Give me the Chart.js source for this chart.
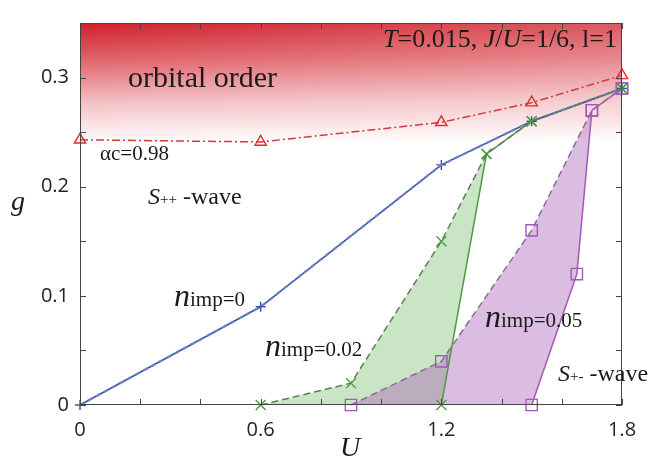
<!DOCTYPE html>
<html>
<head>
<meta charset="utf-8">
<script src="https://cdn.jsdelivr.net/npm/chart.js@4/dist/chart.umd.min.js"></script>
<style>
  html, body { margin: 0; padding: 0; background: #fff; }
  #wrap { width: 650px; height: 461px; position: relative; }
</style>
</head>
<body>
<div id="wrap"><canvas id="c"></canvas></div>
<script>
// Phase diagram g vs U: orbital-order boundary and s++ / s+- boundaries for several impurity densities
const uOrbital = [0, 0.6, 1.2, 1.5, 1.8];
const gOrbital = [0.243, 0.241, 0.259, 0.277, 0.302];

const uClean = [0, 0.6, 1.2, 1.5, 1.8];
const gClean = [0, 0.09, 0.22, 0.26, 0.29];

// n_imp = 0.02: lower (dashed) and upper (solid) boundaries
const uImp02Dashed = [0.6, 0.9, 1.2, 1.35, 1.5, 1.8];
const gImp02Dashed = [0, 0.02, 0.15, 0.23, 0.26, 0.29];
const uImp02Solid = [1.2, 1.35, 1.5, 1.8];
const gImp02Solid = [0, 0.23, 0.26, 0.29];

// n_imp = 0.05
const uImp05Dashed = [0.9, 1.2, 1.5, 1.7, 1.8];
const gImp05Dashed = [0, 0.04, 0.16, 0.27, 0.29];
const uImp05Solid = [1.5, 1.65, 1.7, 1.8];
const gImp05Solid = [0, 0.12, 0.27, 0.29];

const xTickLabels = [0, 0.6, 1.2, 1.8];
const yTickLabels = [0, 0.1, 0.2, 0.3];

const pts = (xs, ys) => xs.map((x, i) => ({ x: x, y: ys[i] }));

// closed region between a dashed boundary (up to the meeting point) and a solid boundary
function region(xd, yd, xs, ys, meetU) {
  const out = [];
  for (let i = 0; i < xd.length && xd[i] <= meetU; i++) out.push({ x: xd[i], y: yd[i] });
  const back = [];
  for (let i = 0; i < xs.length && xs[i] <= meetU; i++) back.push({ x: xs[i], y: ys[i] });
  back.reverse();
  back.forEach((p, i) => { if (i > 0 || p.x !== out[out.length - 1].x) out.push(p); });
  return out;
}

const green02Region = region(uImp02Dashed, gImp02Dashed, uImp02Solid, gImp02Solid, 1.35);
const purple05Region = region(uImp05Dashed, gImp05Dashed, uImp05Solid, gImp05Solid, 1.7);

const SERIF = '"Liberation Serif", "DejaVu Serif", serif';

function richText(ctx, x, y, runs) {
  let cx = x;
  runs.forEach(r => {
    ctx.font = r.f;
    ctx.fillText(r.t, cx, y + (r.dy || 0));
    cx += ctx.measureText(r.t).width;
  });
}
function richWidth(ctx, runs) {
  let w = 0;
  runs.forEach(r => { ctx.font = r.f; w += ctx.measureText(r.t).width; });
  return w;
}

const decor = {
  id: 'decor',
  beforeDatasetsDraw(chart) {
    const { ctx, chartArea: a, scales } = chart;
    const yS = scales.y;
    const yBottomFade = yS.getPixelForValue(0.24);
    ctx.save();
    ctx.beginPath();
    ctx.rect(a.left, a.top, a.right - a.left, a.bottom - a.top);
    ctx.clip();
    const g = ctx.createLinearGradient(0, a.top, 0, yBottomFade);
    g.addColorStop(0, 'rgb(208,32,42)');
    g.addColorStop(0.3, 'rgb(224,98,106)');
    g.addColorStop(0.65, 'rgb(243,190,194)');
    g.addColorStop(1, 'rgba(255,255,255,1)');
    ctx.fillStyle = g;
    ctx.fillRect(a.left, a.top, a.right - a.left, yBottomFade - a.top);
    const h = ctx.createLinearGradient(a.left, 0, a.right, 0);
    h.addColorStop(0, 'rgba(255,255,255,0)');
    h.addColorStop(1, 'rgba(255,255,255,0.25)');
    ctx.fillStyle = h;
    ctx.fillRect(a.left, a.top, a.right - a.left, yBottomFade - a.top);
    ctx.restore();
  },
  afterDatasetsDraw(chart) {
    const { ctx, chartArea: a, scales } = chart;
    const xS = scales.x, yS = scales.y;
    ctx.save();
    // frame
    ctx.strokeStyle = '#444';
    ctx.lineWidth = 1;
    ctx.strokeRect(a.left + 0.5, a.top + 0.5, a.right - a.left - 1, a.bottom - a.top - 1);
    // inward ticks
    const tl = 6;
    ctx.beginPath();
    for (let k = 0; k <= 9; k++) {
      const px = Math.round(xS.getPixelForValue(k * 0.2)) + 0.5;
      ctx.moveTo(px, a.bottom); ctx.lineTo(px, a.bottom - tl);
      ctx.moveTo(px, a.top); ctx.lineTo(px, a.top + tl);
    }
    for (let k = 0; k <= 7; k++) {
      const py = Math.round(yS.getPixelForValue(k * 0.05)) + 0.5;
      ctx.moveTo(a.left, py); ctx.lineTo(a.left + tl, py);
      ctx.moveTo(a.right, py); ctx.lineTo(a.right - tl, py);
    }
    ctx.stroke();

    // annotations
    ctx.fillStyle = '#1a1a1a';
    ctx.textBaseline = 'alphabetic';
    ctx.textAlign = 'left';
    richText(ctx, 128, 87, [{ t: 'orbital order', f: '30px ' + SERIF }]);
    const params = [
      { t: 'T', f: 'italic 26px ' + SERIF },
      { t: '=0.015, ', f: '26px ' + SERIF },
      { t: 'J', f: 'italic 26px ' + SERIF },
      { t: '/', f: '26px ' + SERIF },
      { t: 'U', f: 'italic 26px ' + SERIF },
      { t: '=1/6, l=1', f: '26px ' + SERIF }
    ];
    richText(ctx, 617 - richWidth(ctx, params), 47, params);
    richText(ctx, 100, 160, [{ t: '\u03b1c=0.98', f: '21px ' + SERIF }]);
    richText(ctx, 148, 204, [
      { t: 'S', f: 'italic 24px ' + SERIF },
      { t: '++', f: '15px ' + SERIF },
      { t: ' -wave', f: '24px ' + SERIF }
    ]);
    richText(ctx, 558, 381, [
      { t: 'S', f: 'italic 24px ' + SERIF },
      { t: '+-', f: '15px ' + SERIF },
      { t: ' -wave', f: '24px ' + SERIF }
    ]);
    const nimp = (x, y, val) => richText(ctx, x, y, [
      { t: 'n', f: 'italic 32px ' + SERIF },
      { t: 'imp=' + val, f: '21px ' + SERIF }
    ]);
    nimp(174, 306, '0');
    nimp(265, 356, '0.02');
    nimp(485, 327, '0.05');

    // axis titles
    ctx.textAlign = 'center';
    ctx.textBaseline = 'middle';
    ctx.font = 'italic 28px ' + SERIF;
    ctx.fillText('g', 18, 203);
    ctx.fillText('U', 350, 449);
    ctx.restore();
  }
};

const ds = (label, data, opts) => Object.assign({
  label: label, data: data, showLine: true, fill: false, clip: false,
  borderWidth: 1.5, pointRadius: 0, pointBorderWidth: 1.4,
  pointBackgroundColor: 'rgba(0,0,0,0)'
}, opts);

const datasets = [
  ds('orbital', pts(uOrbital, gOrbital), {
    borderColor: '#d23a3a', borderDash: [8, 3, 2, 3], pointStyle: 'triangle',
    pointRadius: 6.5, pointBorderColor: '#d92f2f', order: 1
  }),
  ds('clean-dashed', pts(uClean, gClean), {
    borderColor: '#6c80c4', borderWidth: 2.2, borderDash: [5, 4], order: 3
  }),
  ds('clean', pts(uClean, gClean), {
    borderColor: '#3a52a6', borderWidth: 1.6, pointStyle: 'cross',
    pointRadius: 5, pointBorderColor: '#3a52a6', order: 4
  }),
  ds('imp02-dashed', pts(uImp02Dashed, gImp02Dashed), {
    borderColor: '#5f7d5a', borderDash: [7, 4], pointStyle: 'crossRot',
    pointRadius: 7, pointBorderColor: '#4f9a40', order: 2
  }),
  ds('imp02-solid', pts(uImp02Solid, gImp02Solid), {
    borderColor: '#4f9a40', pointStyle: 'crossRot',
    pointRadius: 7, pointBorderColor: '#4f9a40', order: 5
  }),
  ds('imp05-dashed', pts(uImp05Dashed, gImp05Dashed), {
    borderColor: '#8c6a94', borderDash: [7, 4], pointStyle: 'rect',
    pointRadius: 8, pointBorderColor: '#a458b8', order: 2
  }),
  ds('imp05-solid', pts(uImp05Solid, gImp05Solid), {
    borderColor: '#a458b8', pointStyle: 'rect',
    pointRadius: 8, pointBorderColor: '#a458b8', order: 5
  }),
  ds('imp02-region', green02Region, {
    borderWidth: 0, borderColor: 'rgba(0,0,0,0)', fill: 'shape', clip: 0,
    backgroundColor: 'rgba(100,180,90,0.35)', order: 20
  }),
  ds('imp05-region', purple05Region, {
    borderWidth: 0, borderColor: 'rgba(0,0,0,0)', fill: 'shape', clip: 0,
    backgroundColor: 'rgba(165,90,180,0.4)', order: 19
  })
];

new Chart(document.getElementById('c'), {
  type: 'scatter',
  data: { datasets: datasets },
  options: {
    responsive: true,
    maintainAspectRatio: false,
    animation: false,
    layout: { padding: { top: 15, right: 28, left: 0, bottom: 0 } },
    plugins: { legend: { display: false }, tooltip: { enabled: false } },
    scales: {
      x: {
        type: 'linear', min: 0, max: 1.8,
        afterFit(s) { s.height = 56; },
        afterBuildTicks(s) { s.ticks = xTickLabels.map(v => ({ value: v })); },
        grid: { display: false, drawTicks: false },
        border: { display: false },
        ticks: {
          padding: 13, color: '#222',
          font: { family: '"Open Sans", "DejaVu Sans", sans-serif', size: 20 },
          callback: v => String(Math.round(v * 10) / 10)
        }
      },
      y: {
        type: 'linear', min: 0, max: 0.35,
        afterFit(s) { s.width = 80; },
        afterBuildTicks(s) { s.ticks = yTickLabels.map(v => ({ value: v })); },
        grid: { display: false, drawTicks: false },
        border: { display: false },
        ticks: {
          padding: 11, color: '#222',
          font: { family: '"Open Sans", "DejaVu Sans", sans-serif', size: 20 },
          callback: v => String(Math.round(v * 10) / 10)
        }
      }
    }
  },
  plugins: [decor]
});
</script>
</body>
</html>
